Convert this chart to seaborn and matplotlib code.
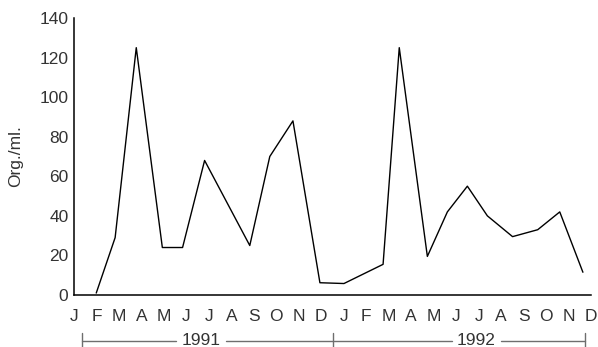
import matplotlib
matplotlib.use("Agg")
import matplotlib.pyplot as plt
import seaborn as sns
import pandas as pd
import matplotlib.transforms as mtransforms

# Data (month index: 0 = Jan 1991 ... 23 = Dec 1992; samples taken mid-month)
sample_month = [0.99, 1.83, 2.77, 3.93, 4.83, 5.81, 7.82, 8.71, 9.74, 10.94,
                12.01, 13.75, 14.47, 15.72, 16.61, 17.50, 18.39, 19.51, 20.63,
                21.61, 22.64]
org_per_ml = [1, 29, 125, 24, 24, 68, 25, 70, 88, 6.2,
              5.8, 15.5, 125, 19.5, 42, 55, 40, 29.5, 33,
              42, 11.5]
month_labels = ["J", "F", "M", "A", "M", "J", "J", "A", "S", "O", "N", "D",
                "J", "F", "M", "A", "M", "J", "J", "A", "S", "O", "N", "D"]
years = ["1991", "1992"]
y_ticks = [0, 20, 40, 60, 80, 100, 120, 140]

df = pd.DataFrame({"month": sample_month, "value": org_per_ml})

sns.set_style("white")
plt.rcParams["font.family"] = ["Liberation Sans", "DejaVu Sans"]

fig = plt.figure(figsize=(5.98, 3.47), dpi=100)
ax = fig.add_axes([74 / 598, 1 - 295 / 347, (591 - 74) / 598, (295 - 18) / 347])

sns.lineplot(data=df, x="month", y="value", ax=ax, color="black", linewidth=1.0)

ax.set_xlim(0, 23)
ax.set_ylim(0, 140)
ax.set_xticks(range(len(month_labels)))
ax.set_xticklabels(month_labels)
ax.set_yticks(y_ticks)
ax.set_xlabel("")
ax.set_ylabel("Org./ml.", fontsize=12.5, color="#333333")
ax.yaxis.set_label_coords(-0.099, 0.5)

for s in ["top", "right"]:
    ax.spines[s].set_visible(False)
for s in ["left", "bottom"]:
    ax.spines[s].set_color("black")
    ax.spines[s].set_linewidth(1.1)

ax.tick_params(axis="both", direction="in", length=8.5, width=1.2,
               color="#9a9a9a", labelsize=12.5, labelcolor="#333333")
ax.tick_params(axis="x", pad=10)
ax.tick_params(axis="y", pad=4)

# Year brackets below month labels
trans = mtransforms.blended_transform_factory(ax.transData, ax.transAxes)
ybr = -0.166
cap = 0.03
gray = "#6e6e6e"
brackets = [(0.35, 11.5, 5.65, years[0]), (11.5, 22.72, 17.9, years[1])]
for x0, x1, xc, label in brackets:
    half = 1.1
    ax.plot([x0, xc - half], [ybr, ybr], transform=trans, color=gray, lw=1.0, clip_on=False)
    ax.plot([xc + half, x1], [ybr, ybr], transform=trans, color=gray, lw=1.0, clip_on=False)
    ax.text(xc, ybr, label, transform=trans, ha="center", va="center",
            fontsize=12.5, color="#333333")
for xv in [0.35, 11.5, 22.72]:
    ax.plot([xv, xv], [ybr - cap, ybr + cap], transform=trans, color=gray, lw=1.0, clip_on=False)

fig.savefig("out.png", dpi=100)
